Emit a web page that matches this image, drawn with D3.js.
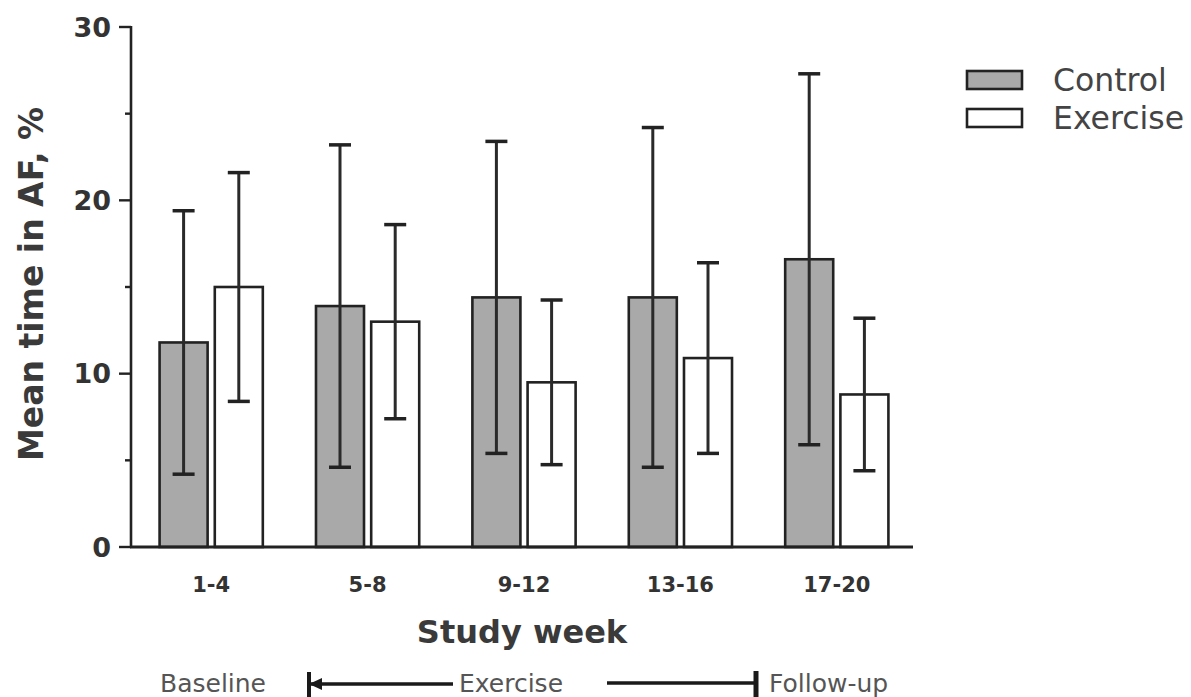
<!DOCTYPE html>
<html>
<head>
<meta charset="utf-8">
<script src="https://cdn.jsdelivr.net/npm/d3@7"></script>
<style>
  html, body { margin: 0; padding: 0; background: #fff; }
  svg { display: block; font-family: "DejaVu Sans", sans-serif; }
</style>
</head>
<body>
<svg id="chart" width="1191" height="697"></svg>
<script>
// Study-week blocks on the x axis
const weeks = ["1-4", "5-8", "9-12", "13-16", "17-20"];
const groups = ["Control", "Exercise"];

// Mean time in AF (%) and standard deviation per block
const controlMean = [11.8, 13.9, 14.4, 14.4, 16.6];
const controlSD   = [7.6, 9.3, 9.0, 9.8, 10.7];
const exerciseMean = [15.0, 13.0, 9.5, 10.9, 8.8];
const exerciseSD   = [6.6, 5.6, 4.75, 5.5, 4.4];

const yTicks = [0, 10, 20, 30];
const yMinorTicks = [5, 15, 25];

// Study phases shown below the axis title
const phases = ["Baseline", "Exercise", "Follow-up"];

const fills = { Control: "#a9a9aa", Exercise: "#ffffff" };

const svg = d3.select("#chart");

const x0 = d3.scaleBand().domain(weeks).range([133, 915])
  .paddingInner(0.34).paddingOuter(0.17);
const x1 = d3.scaleBand().domain(groups).range([0, x0.bandwidth()])
  .paddingInner(0.13).paddingOuter(0);
const y = d3.scaleLinear().domain([0, 30]).range([547, 27]);

const rows = weeks.map((w, i) => ({
  week: w,
  values: [
    { group: "Control", mean: controlMean[i], sd: controlSD[i] },
    { group: "Exercise", mean: exerciseMean[i], sd: exerciseSD[i] }
  ]
}));

// Bars
const g = svg.append("g");
const wk = g.selectAll("g.week").data(rows).join("g")
  .attr("class", "week")
  .attr("transform", d => `translate(${x0(d.week)},0)`);

wk.selectAll("rect").data(d => d.values).join("rect")
  .attr("x", d => x1(d.group))
  .attr("y", d => y(d.mean))
  .attr("width", x1.bandwidth())
  .attr("height", d => y(0) - y(d.mean))
  .attr("fill", d => fills[d.group])
  .attr("stroke", "#222")
  .attr("stroke-width", 2.6);

// Error bars (mean ± SD)
const capHalf = 11;
const eb = wk.selectAll("g.err").data(d => d.values).join("g").attr("class", "err");
eb.append("line")
  .attr("x1", d => x1(d.group) + x1.bandwidth() / 2)
  .attr("x2", d => x1(d.group) + x1.bandwidth() / 2)
  .attr("y1", d => y(d.mean - d.sd))
  .attr("y2", d => y(d.mean + d.sd))
  .attr("stroke", "#2a2a2a").attr("stroke-width", 3);
[1, -1].forEach(s => {
  eb.append("line")
    .attr("x1", d => x1(d.group) + x1.bandwidth() / 2 - capHalf)
    .attr("x2", d => x1(d.group) + x1.bandwidth() / 2 + capHalf)
    .attr("y1", d => y(d.mean + s * d.sd))
    .attr("y2", d => y(d.mean + s * d.sd))
    .attr("stroke", "#222").attr("stroke-width", 3.5);
});

// Y axis
const yAxis = svg.append("g").attr("transform", "translate(131,0)");
yAxis.append("line").attr("x1", 0).attr("x2", 0)
  .attr("y1", y(30) - 1).attr("y2", y(0) + 1)
  .attr("stroke", "#222").attr("stroke-width", 2.6);
yAxis.selectAll("line.major").data(yTicks).join("line").attr("class", "major")
  .attr("x1", -12).attr("x2", 0).attr("y1", d => y(d)).attr("y2", d => y(d))
  .attr("stroke", "#222").attr("stroke-width", 2.4);
yAxis.selectAll("line.minor").data(yMinorTicks).join("line").attr("class", "minor")
  .attr("x1", -6).attr("x2", 0).attr("y1", d => y(d)).attr("y2", d => y(d))
  .attr("stroke", "#222").attr("stroke-width", 2.4);
yAxis.selectAll("text").data(yTicks).join("text")
  .attr("x", -20).attr("y", d => y(d)).attr("dy", "0.36em")
  .attr("text-anchor", "end")
  .attr("font-size", 27).attr("font-weight", "bold").attr("fill", "#333")
  .text(d => d);

// X axis
svg.append("line").attr("x1", 130).attr("x2", 913)
  .attr("y1", y(0)).attr("y2", y(0))
  .attr("stroke", "#222").attr("stroke-width", 3);
svg.append("g").selectAll("text").data(weeks).join("text")
  .attr("x", d => x0(d) + x0.bandwidth() / 2)
  .attr("y", 592)
  .attr("text-anchor", "middle")
  .attr("font-size", 21).attr("font-weight", "bold").attr("fill", "#333")
  .text(d => d);

// Axis titles
svg.append("text")
  .attr("x", 522).attr("y", 643)
  .attr("text-anchor", "middle")
  .attr("font-size", 32).attr("font-weight", "bold").attr("fill", "#3a3a3a")
  .text("Study week");

svg.append("text")
  .attr("transform", "translate(43,284) rotate(-90)")
  .attr("text-anchor", "middle")
  .attr("font-size", 33).attr("font-weight", "bold").attr("fill", "#3a3a3a")
  .text("Mean time in AF, %");

// Study phase annotation
const ph = svg.append("g").attr("fill", "#555").attr("font-size", 25);
ph.append("text").attr("x", 160).attr("y", 692).text(phases[0]);
ph.append("text").attr("x", 459).attr("y", 692).text(phases[1]);
ph.append("text").attr("x", 769).attr("y", 692).text(phases[2]);

const pl = svg.append("g").attr("stroke", "#1a1a1a");
pl.append("line").attr("x1", 309).attr("x2", 453).attr("y1", 684).attr("y2", 684).attr("stroke-width", 3.5);
pl.append("line").attr("x1", 309).attr("x2", 309).attr("y1", 672).attr("y2", 697).attr("stroke-width", 4);
pl.append("path").attr("d", "M309,684 L322,678 L322,690 Z").attr("fill", "#1a1a1a").attr("stroke", "none");
pl.append("line").attr("x1", 607).attr("x2", 756).attr("y1", 683).attr("y2", 683).attr("stroke-width", 3.5);
pl.append("line").attr("x1", 756).attr("x2", 756).attr("y1", 671).attr("y2", 697).attr("stroke-width", 5);

// Legend
const lg = svg.append("g").attr("transform", "translate(967,71)");
const li = lg.selectAll("g").data(groups).join("g")
  .attr("transform", (d, i) => `translate(0,${i * 38})`);
li.append("rect").attr("width", 55).attr("height", 18)
  .attr("fill", d => fills[d]).attr("stroke", "#222").attr("stroke-width", 2.6);
li.append("text").attr("x", 86).attr("y", 9).attr("dy", "0.36em")
  .attr("font-size", 31.5).attr("fill", "#444")
  .text(d => d);
</script>
</body>
</html>
